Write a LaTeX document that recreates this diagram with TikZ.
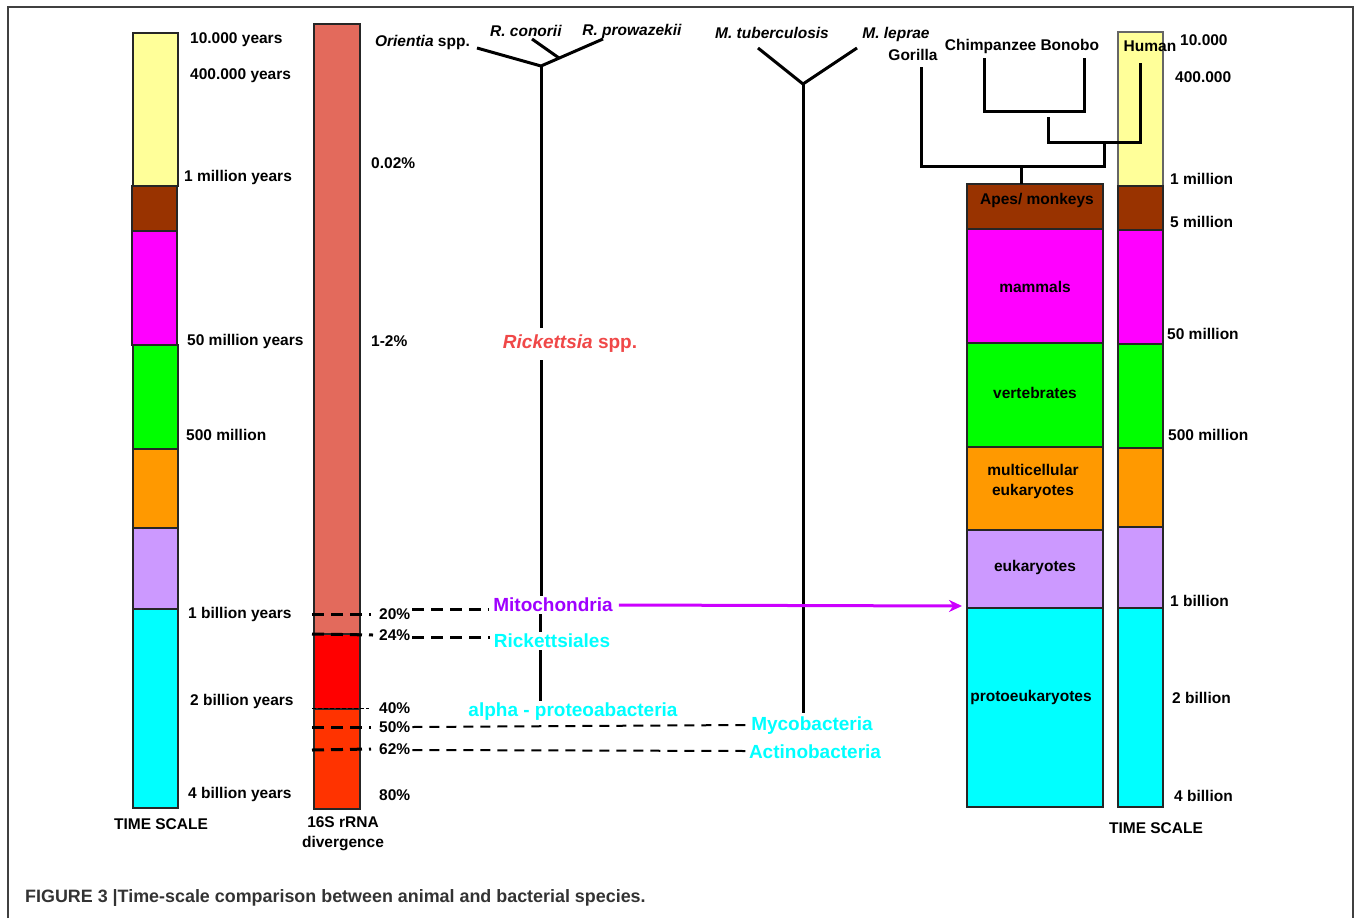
\documentclass[tikz,border=0pt]{standalone}
\usepackage{fontspec}
\setmainfont{Liberation Sans}
\usetikzlibrary{arrows.meta,calc}
\definecolor{yellowc}{HTML}{FFFF99}
\definecolor{brownc}{HTML}{993300}
\definecolor{magc}{HTML}{FF00FF}
\definecolor{greenc}{HTML}{00FF00}
\definecolor{orangec}{HTML}{FF9900}
\definecolor{lavc}{HTML}{CC99FF}
\definecolor{cyanc}{HTML}{00FFFF}
\definecolor{salmonc}{HTML}{E36A5C}
\definecolor{redc}{HTML}{FF0000}
\definecolor{orredc}{HTML}{FF3300}
\definecolor{mitoc}{HTML}{9F00FF}
\definecolor{arrowc}{HTML}{CC00FF}
\definecolor{rickc}{HTML}{F04848}
\definecolor{capc}{HTML}{333333}
\newcommand\lbf{\fontsize{15.5}{18}\selectfont\bfseries}
\newcommand\bigf{\fontsize{19}{22}\selectfont\bfseries}
\begin{document}
\begin{tikzpicture}[x=1pt,y=-1pt,
  lbl/.style={font=\lbf, inner sep=0pt, anchor=west},
  clbl/.style={font=\lbf, inner sep=0pt, anchor=center, align=center},
  tax/.style={font=\bigf, inner sep=3pt, anchor=center, fill=white},
  seg/.style={draw=black!85, line width=1.2pt},
  tree/.style={line width=3pt, black},
  thickdash/.style={line width=3pt, dash pattern=on 12pt off 7pt},
  thindash/.style={line width=2pt, dash pattern=on 10pt off 7pt}]
\useasboundingbox (0,0) rectangle (1354,918);
% frame
\draw[black!75, line width=1.5pt] (8,918) -- (8,7) -- (1353,7) -- (1353,918);

% ---------------- left time scale
\draw[seg, fill=yellowc] (133,33) rectangle (178,186);
\draw[seg, fill=brownc] (132,186) rectangle (177,231);
\draw[seg, fill=magc] (132,231) rectangle (177,345);
\draw[seg, fill=greenc] (133,345) rectangle (178,449);
\draw[seg, fill=orangec] (133,449) rectangle (178,528);
\draw[seg, fill=lavc] (133,528) rectangle (178,609);
\draw[seg, fill=cyanc] (133,609) rectangle (178,808);
\node[lbl] (t1) at (190,40) {10.000 years};
\node[lbl] (t2) at (190,76) {400.000 years};
\node[lbl] (t3) at (184,177) {1 million years};
\node[lbl] (t4) at (187,341) {50 million years};
\node[lbl] (t5) at (186,435) {500 million};
\node[lbl] (t6) at (188,614) {1 billion years};
\node[lbl] (t7) at (190,701) {2 billion years};
\node[lbl] (t8) at (188,794) {4 billion years};
\node[clbl] (tsl) at (161,824) {TIME SCALE};

% ---------------- 16S rRNA bar
\draw[seg, fill=salmonc] (314,24) rectangle (360,634);
\draw[seg, fill=redc] (314,634) rectangle (360,709);
\draw[seg, fill=orredc] (314,709) rectangle (360,809);
\node[clbl] (rna) at (343,834) {16S rRNA\\[2pt]divergence};
\node[lbl] (p002) at (371,163) {0.02\%};
\node[lbl] (p12) at (371,341) {1-2\%};
\node[lbl] (p20) at (379,614) {20\%};
\node[lbl] (p24) at (379,635) {24\%};
\node[lbl] (p40) at (379,708) {40\%};
\node[lbl] (p50) at (379,727) {50\%};
\node[lbl] (p62) at (379,749) {62\%};
\node[lbl] (p80) at (379,795) {80\%};
\coordinate (l20) at (312,614);
\coordinate (l24) at (312,634);
\coordinate (l40) at (312,708);
\coordinate (l50) at (312,727);
\coordinate (l62) at (312,750);

% ---------------- Rickettsia tree
\node[font=\lbf, inner sep=0pt, anchor=east] (ori) at (470,42) {\textit{Orientia} spp.};
\node[font=\lbf, inner sep=0pt] (rcon) at (526,31) {\textit{R. conorii}};
\node[font=\lbf, inner sep=0pt] (rpro) at (632,31) {\textit{R. prowazekii}};
\coordinate (rk) at (541,66);
\coordinate (rko) at (477,48);
\coordinate (rkp) at (603,39);
\coordinate (rkc) at (532,39);
\coordinate (rkm) at (559,58);
\node[tax, text=rickc, inner ysep=7pt] (rspp) at (570,344) {\textit{Rickettsia} spp.};
\node[tax, text=mitoc, inner sep=2pt] (mito) at (553,605) {Mitochondria};
\node[tax, text=cyanc, inner sep=2pt] (rick) at (552,641) {Rickettsiales};
\node[tax, text=cyanc, inner sep=2pt] (alpha) at (573,712) {alpha - proteoabacteria};
\draw[tree] (rko) -- (rk) -- (rkp);
\draw[tree] (rkc) -- (rkm);
\draw[tree] (rk) -- (rk |- rspp.north);
\draw[tree] (rk |- rspp.south) -- (rk |- mito.north);
\draw[tree] (540,0 |- mito.south) -- (540,0 |- rick.north);
\draw[tree] (540,0 |- rick.south) -- (540,0 |- alpha.north);

% ---------------- Mycobacteria tree
\node[font=\lbf, inner sep=0pt] (mtb) at (772,33) {\textit{M. tuberculosis}};
\node[font=\lbf, inner sep=0pt] (mlep) at (896,34) {\textit{M. leprae}};
\coordinate (my) at (803,84);
\coordinate (myl) at (758,48);
\coordinate (myr) at (857,48);
\node[tax, text=cyanc, inner sep=1pt] (mycob) at (812,726) {Mycobacteria};
\node[tax, text=cyanc, inner sep=1pt] (actino) at (815,752) {Actinobacteria};
\draw[tree] (myl) -- (my) -- (myr);
\draw[tree] (my) -- ([yshift=3pt]my |- mycob.north);

% ---------------- dashed connectors
\draw[thickdash] (l20) -- ([xshift=-8pt]p20.west);
\draw[thickdash] (l24) -- ([xshift=-6pt]p24.west);
\draw[line width=0.8pt, dash pattern=on 4pt off 2pt] (l40) -- ([xshift=-10pt]p40.west);
\draw[thickdash] (l50) -- ([xshift=-8pt]p50.west);
\draw[thickdash] (l62) -- ([xshift=-8pt]p62.west);
\draw[thickdash] ([xshift=2pt,yshift=5pt]p20.east) -- ([xshift=-2pt,yshift=-4pt]mito.west);
\draw[thickdash] ([xshift=2pt,yshift=-2pt]p24.east) -- ([xshift=-2pt,yshift=4pt]rick.west);
\draw[thindash] ([xshift=2pt]p50.east) -- ([xshift=-4pt,yshift=1pt]mycob.west);
\draw[thindash] ([xshift=2pt,yshift=-1pt]p62.east) -- ([xshift=-2pt,yshift=1pt]actino.west);

% ---------------- right big bar
\draw[seg, fill=brownc] (967,184) rectangle (1103,229);
\draw[seg, fill=magc] (967,229) rectangle (1103,343);
\draw[seg, fill=greenc] (967,343) rectangle (1103,447);
\draw[seg, fill=orangec] (967,447) rectangle (1103,530);
\draw[seg, fill=lavc] (967,530) rectangle (1103,608);
\draw[seg, fill=cyanc] (967,608) rectangle (1103,807);
\node[clbl] (apes) at (1037,200) {Apes/ monkeys};
\node[clbl] (mamm) at (1035,287) {mammals};
\node[clbl] (vert) at (1035,393) {vertebrates};
\node[clbl] (multi) at (1033,481) {multicellular\\[2pt]eukaryotes};
\node[clbl] (euk) at (1035,567) {eukaryotes};
\node[clbl] (proto) at (1031,697) {protoeukaryotes};
\coordinate (eukin) at (962,606);
\draw[line width=3pt, arrowc, -{Stealth[length=13pt,width=12pt]}] ([xshift=4pt]mito.east) -- (eukin);

% ---------------- right time scale
\draw[seg, draw=black!60, fill=yellowc] (1118,32) rectangle (1163,186);
\draw[seg, fill=brownc] (1118,186) rectangle (1163,230);
\draw[seg, fill=magc] (1118,230) rectangle (1163,344);
\draw[seg, fill=greenc] (1118,344) rectangle (1163,448);
\draw[seg, fill=orangec] (1118,448) rectangle (1163,527);
\draw[seg, fill=lavc] (1118,527) rectangle (1163,608);
\draw[seg, fill=cyanc] (1118,608) rectangle (1163,807);
\node[lbl] (r1) at (1180,40) {10.000};
\node[lbl] (r2) at (1175,77) {400.000};
\node[lbl] (r3) at (1170,179) {1 million};
\node[lbl] (r4) at (1170,222) {5 million};
\node[lbl] (r5) at (1167,334) {50 million};
\node[lbl] (r6) at (1168,435) {500 million};
\node[lbl] (r7) at (1170,601) {1 billion};
\node[lbl] (r8) at (1172,698) {2 billion};
\node[lbl] (r9) at (1174,796) {4 billion};
\node[clbl] (tsr) at (1156,828) {TIME SCALE};

% ---------------- ape tree
\node[clbl] (gor) at (913,55) {Gorilla};
\node[clbl] (chb) at (1022,46) {Chimpanzee Bonobo};
\node[clbl] (hum) at (1150,46) {Human};
\coordinate (gtop) at (921,67);
\coordinate (gbot) at (921,166);
\coordinate (ctop) at (984,58);
\coordinate (cbot) at (984,111);
\coordinate (btop) at (1084,58);
\coordinate (bbot) at (1084,111);
\coordinate (cbj) at (1048,111);
\coordinate (htop) at (1140,63);
\coordinate (hbot) at (1140,142);
\coordinate (hcj) at (1048,142);
\coordinate (hj) at (1104,142);
\coordinate (gj) at (1104,166);
\coordinate (aj) at (1021,166);
\draw[tree] (gtop) -- (gbot) -- (gj) -- (hj);
\draw[tree] (ctop) -- (cbot) -- (bbot) -- (btop);
\draw[tree] ([yshift=-6pt]cbj) -- (hcj) -- (hbot) -- (htop);
\draw[tree] (aj) -- (1021,184);

% ---------------- caption
\node[font=\fontsize{17.9}{20}\selectfont\bfseries, text=capc, inner sep=0pt, anchor=west] (cap) at (25,898) {FIGURE 3 |Time-scale comparison between animal and bacterial species.};
\end{tikzpicture}
\end{document}
